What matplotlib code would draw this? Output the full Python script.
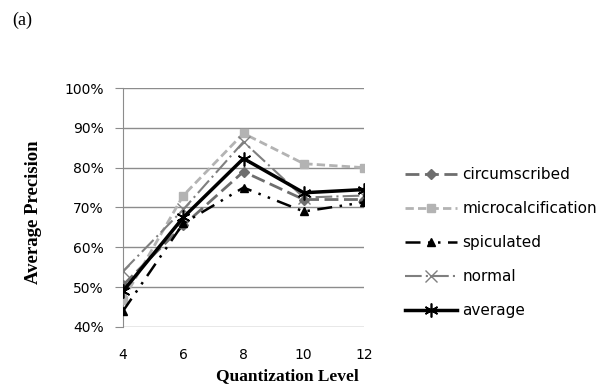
import matplotlib
matplotlib.use("Agg")
import matplotlib.pyplot as plt
from matplotlib.ticker import PercentFormatter

# data
levels = [4, 6, 8, 10, 12]
circumscribed = [50.5, 65.5, 79.0, 72.0, 72.0]
microcalcification = [46.8, 73.0, 88.6, 81.0, 80.0]
spiculated = [44.0, 66.0, 75.0, 69.0, 71.3]
normal = [54.0, 69.5, 86.5, 72.5, 73.0]
average = [49.0, 67.5, 82.3, 73.7, 74.5]
y_ticks = [40, 50, 60, 70, 80, 90, 100]

fig = plt.figure(figsize=(5.98, 3.85), dpi=100)
ax = fig.add_axes([123 / 598, 1 - 327 / 385, 241 / 598, 239 / 385])

ax.plot(levels, microcalcification, color='#b3b3b3', linestyle=(0, (3, 1.5)),
        linewidth=2, marker='s', markersize=6, label='microcalcification', zorder=3)
ax.plot(levels, normal, color='#7f7f7f', linestyle=(0, (8, 2, 1, 2)),
        linewidth=1.5, marker='x', markersize=8, label='normal', zorder=3)
ax.plot(levels, circumscribed, color='#6e6e6e', linestyle=(0, (5, 2)),
        linewidth=2, marker='D', markersize=5, label='circumscribed', zorder=3)
ax.plot(levels, spiculated, color='black', linestyle=(0, (6, 3, 1, 3, 1, 3)),
        linewidth=1.8, marker='^', markersize=6, label='spiculated', zorder=3)
ax.plot(levels, average, color='black', linestyle='-',
        linewidth=2.5, marker=(6, 2, 0), markersize=10, markeredgewidth=1.2,
        label='average', zorder=4)

ax.set_xlim(4, 12)
ax.set_ylim(40, 100)
ax.set_xticks(levels)
ax.set_yticks(y_ticks)
ax.yaxis.set_major_formatter(PercentFormatter(decimals=0))
ax.grid(axis='y', color='#8c8c8c', linewidth=1)
ax.set_axisbelow(True)
for side in ['top', 'right', 'bottom']:
    ax.spines[side].set_visible(False)
ax.spines['left'].set_color('#8c8c8c')
ax.tick_params(axis='y', length=6, color='#8c8c8c', labelsize=10, pad=8)
ax.tick_params(axis='x', length=0, labelsize=10, pad=15)

fig.text(287 / 598, 1 - 376 / 385, 'Quantization Level', ha='center', va='center',
         family='Liberation Serif', weight='bold', fontsize=12.5)
fig.text(33 / 598, 1 - 212 / 385, 'Average Precision', ha='center', va='center',
         rotation=90, family='Liberation Serif', weight='bold', fontsize=13.5)
fig.text(12 / 598, 1 - 20 / 385, '(a)', ha='left', va='center',
         family='Liberation Serif', fontsize=13)

handles, labels = ax.get_legend_handles_labels()
order = ['circumscribed', 'microcalcification', 'spiculated', 'normal', 'average']
hl = [handles[labels.index(name)] for name in order]
fig.legend(hl, order, loc='upper left', bbox_to_anchor=(405 / 598, 1 - 167 / 385),
           frameon=False, fontsize=11, numpoints=1, handlelength=3.4,
           handletextpad=0.35, labelspacing=1.25, borderpad=0, borderaxespad=0)

fig.savefig('out.png', dpi=100)
